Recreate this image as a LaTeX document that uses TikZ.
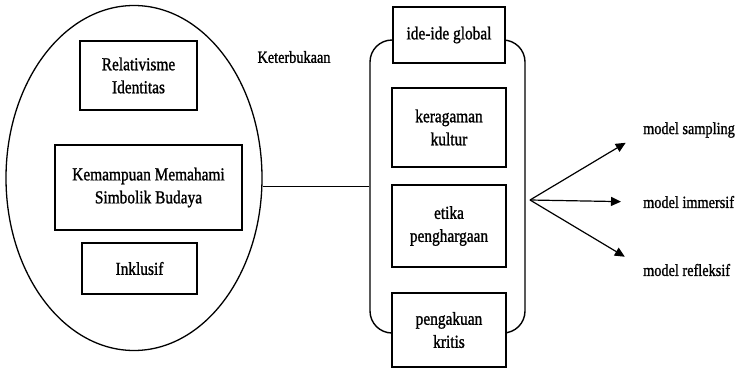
\documentclass[tikz,border=0pt]{standalone}
\usepackage{fontspec}
\setmainfont{Liberation Serif}[FakeStretch=0.84,FakeBold=1.2]
\usetikzlibrary{shapes.geometric,arrows.meta}
\tikzset{
  box/.style={draw,line width=1.5pt,fill=white,align=center,inner sep=2pt,
    font=\fontsize{18.3}{23}\selectfont},
  lbl/.style={inner sep=1pt,font=\fontsize{17}{17}\selectfont,anchor=west},
  conn/.style={line width=1.4pt},
  arr/.style={line width=1.2pt,-{Triangle[length=10pt,width=9pt]}}
}
\begin{document}
\begin{tikzpicture}[x=1pt,y=-1pt]
\useasboundingbox (0,0) rectangle (742,378);
% left ellipse
\node[ellipse,draw,line width=1.3pt,minimum width=256pt,minimum height=345pt,inner sep=0pt] (ell) at (134,178) {};
\node[box,minimum width=117pt,minimum height=69pt] (rel) at (138.5,75.5) {Relativisme\\Identitas};
\node[box,minimum width=187pt,minimum height=85pt] (kem) at (148.5,187.5) {Kemampuan Memahami\\Simbolik Budaya};
\node[box,minimum width=115pt,minimum height=51pt] (ink) at (139.5,268.5) {Inklusif};
\node[lbl,anchor=center] (ket) at (294,57) {Keterbukaan};
% rounded frame
\node[draw,line width=1.4pt,rounded corners=22pt,minimum width=155pt,minimum height=293pt,inner sep=0pt] (rr) at (447.5,186.5) {};
\node[box,minimum width=112pt,minimum height=56pt] (ide) at (449,35) {ide-ide global};
\node[box,minimum width=114pt,minimum height=79pt] (ker) at (449,127.5) {keragaman\\kultur};
\node[box,minimum width=114pt,minimum height=82pt] (eti) at (449,226) {etika\\penghargaan};
\node[box,minimum width=114pt,minimum height=74pt] (pen) at (449,330) {pengakuan\\kritis};
% connector
\draw[conn] (rr.west) -- (rr.west -| ell.east);
% fan
\coordinate (fan) at (530,200);
\node[lbl] (ms) at (642,130) {model sampling};
\node[lbl] (mi) at (642,202) {model immersif};
\node[lbl] (mr) at (642,270) {model refleksif};
\draw[arr,shorten >=19pt] (fan) -- (ms.west |- 0,133);
\draw[arr,shorten >=21pt] (fan) -- (mi.west);
\draw[arr,shorten >=20pt] (fan) -- (mr.west |- 0,267);
\end{tikzpicture}
\end{document}
